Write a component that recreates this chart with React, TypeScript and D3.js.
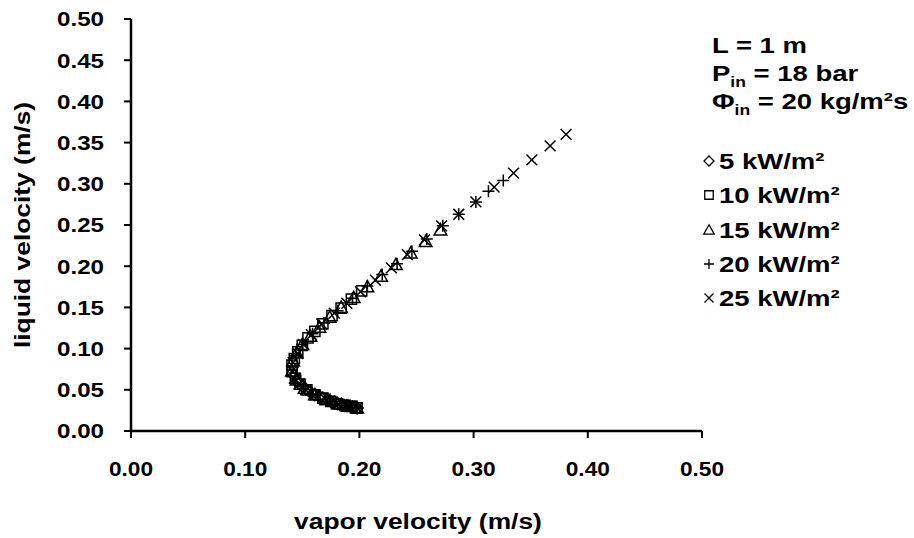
import React from "react";
import * as d3 from "d3";

const W = 914;
const H = 538;

const xTicks = [0, 0.1, 0.2, 0.3, 0.4, 0.5];
const yTicks = [0, 0.05, 0.1, 0.15, 0.2, 0.25, 0.3, 0.35, 0.4, 0.45, 0.5];

const q5: [number, number][] = [
  [0.198, 0.028], [0.196, 0.029], [0.194, 0.029], [0.192, 0.03], [0.189, 0.031],
  [0.187, 0.031], [0.184, 0.032], [0.181, 0.033], [0.178, 0.035], [0.175, 0.036],
  [0.172, 0.038], [0.168, 0.04], [0.165, 0.042], [0.161, 0.044], [0.157, 0.047],
  [0.153, 0.051], [0.15, 0.054], [0.147, 0.058], [0.145, 0.062], [0.143, 0.067],
];
const q10: [number, number][] = [
  [0.198, 0.028], [0.193, 0.03], [0.187, 0.031], [0.181, 0.033], [0.175, 0.036],
  [0.168, 0.04], [0.161, 0.044], [0.154, 0.05], [0.148, 0.057], [0.144, 0.064],
  [0.141, 0.072], [0.141, 0.08], [0.143, 0.088], [0.146, 0.096], [0.15, 0.104],
  [0.155, 0.113], [0.161, 0.121], [0.168, 0.13], [0.176, 0.14], [0.184, 0.149],
  [0.193, 0.16], [0.202, 0.17],
];
const q15: [number, number][] = [
  [0.198, 0.028], [0.19, 0.03], [0.181, 0.033], [0.171, 0.038], [0.161, 0.044],
  [0.152, 0.052], [0.145, 0.062], [0.141, 0.073], [0.142, 0.085], [0.145, 0.095],
  [0.15, 0.105], [0.157, 0.115], [0.165, 0.126], [0.174, 0.138], [0.184, 0.15],
  [0.195, 0.162], [0.207, 0.175], [0.219, 0.188], [0.232, 0.202], [0.245, 0.216],
  [0.258, 0.23], [0.271, 0.244],
];
const q20: [number, number][] = [
  [0.198, 0.028], [0.187, 0.031], [0.175, 0.036], [0.162, 0.044], [0.151, 0.054],
  [0.144, 0.066], [0.141, 0.079], [0.144, 0.092], [0.15, 0.105], [0.159, 0.118],
  [0.169, 0.131], [0.181, 0.146], [0.194, 0.161], [0.207, 0.176], [0.22, 0.19],
  [0.233, 0.203], [0.246, 0.218], [0.259, 0.233], [0.273, 0.249], [0.287, 0.263],
  [0.302, 0.278], [0.313, 0.291], [0.326, 0.304],
];
const q25: [number, number][] = [
  [0.198, 0.028], [0.19, 0.03], [0.18, 0.034], [0.17, 0.039], [0.161, 0.044],
  [0.153, 0.05], [0.147, 0.057], [0.143, 0.064], [0.141, 0.073], [0.142, 0.083],
  [0.146, 0.094], [0.151, 0.105], [0.158, 0.117], [0.167, 0.13], [0.178, 0.143],
  [0.189, 0.155], [0.201, 0.169], [0.214, 0.183], [0.228, 0.198], [0.242, 0.214],
  [0.257, 0.232], [0.272, 0.249], [0.287, 0.263], [0.302, 0.278], [0.318, 0.296],
  [0.335, 0.313], [0.351, 0.329], [0.367, 0.346], [0.381, 0.36],
];

const seriesNames = ["5 kW/m²", "10 kW/m²", "15 kW/m²", "20 kW/m²", "25 kW/m²"];
const seriesData = [q5, q10, q15, q20, q25];
const seriesShapes = ["diamond", "square", "triangle", "plus", "cross"];

function markerPath(shape: string, cx: number, cy: number, s: number): string {
  switch (shape) {
    case "diamond":
      return `M${cx},${cy - s}L${cx + s},${cy}L${cx},${cy + s}L${cx - s},${cy}Z`;
    case "square": {
      const h = s * 0.85;
      return `M${cx - h},${cy - h}H${cx + h}V${cy + h}H${cx - h}Z`;
    }
    case "triangle": {
      const h = s * 1.05;
      return `M${cx},${cy - h}L${cx + h},${cy + h * 0.8}L${cx - h},${cy + h * 0.8}Z`;
    }
    case "plus":
      return `M${cx - s},${cy}H${cx + s}M${cx},${cy - s}V${cy + s}`;
    default: {
      const h = s * 0.9;
      return `M${cx - h},${cy - h}L${cx + h},${cy + h}M${cx + h},${cy - h}L${cx - h},${cy + h}`;
    }
  }
}

function SText(props: {
  x: number;
  y: number;
  sx: number;
  size: number;
  anchor?: string;
  rotate?: number;
  children: React.ReactNode;
}) {
  const { x, y, sx, size, anchor, rotate, children } = props;
  return (
    <g transform={`translate(${x},${y}) rotate(${rotate || 0}) scale(${sx},1)`}>
      <text x={0} y={0} dy="0.35em" fontSize={size} textAnchor={anchor || "start"}>
        {children}
      </text>
    </g>
  );
}

export default function App() {
  const x = d3.scaleLinear().domain([0, 0.5]).range([131, 702]);
  const y = d3.scaleLinear().domain([0, 0.5]).range([431, 19]);
  const font = "'Liberation Sans', Arial, sans-serif";
  const legendX = 712;
  const legendY = [161, 195, 230, 264, 298];

  return (
    <svg
      width={W}
      height={H}
      style={{ position: "absolute", left: 0, top: 0, background: "#fff" }}
      fontFamily={font}
      fontWeight="bold"
    >
      {/* axes */}
      <line x1={x(0)} x2={x(0)} y1={y(0.5)} y2={y(0)} stroke="#000" strokeWidth={2.5} />
      <line x1={x(0)} x2={x(0.5)} y1={y(0)} y2={y(0)} stroke="#000" strokeWidth={2.5} />
      {yTicks.map((t) => (
        <g key={"y" + t}>
          <line x1={x(0) - 7} x2={x(0)} y1={y(t)} y2={y(t)} stroke="#000" strokeWidth={2} />
          <SText x={104} y={y(t)} sx={1.15} size={21} anchor="end">
            {t.toFixed(2)}
          </SText>
        </g>
      ))}
      {xTicks.map((t) => (
        <g key={"x" + t}>
          <line x1={x(t)} x2={x(t)} y1={y(0)} y2={y(0) + 7} stroke="#000" strokeWidth={2} />
          <SText x={x(t)} y={469} sx={1.08} size={21} anchor="middle">
            {t.toFixed(2)}
          </SText>
        </g>
      ))}
      <SText x={22} y={225} sx={1.2} size={22} anchor="middle" rotate={-90}>
        liquid velocity (m/s)
      </SText>
      <SText x={418} y={521} sx={1.2} size={22} anchor="middle">
        vapor velocity (m/s)
      </SText>

      {/* data */}
      {seriesData.map((data, i) => (
        <g key={"s" + i}>
          {data.map((d, j) => (
            <path
              key={j}
              d={markerPath(seriesShapes[i], x(d[0]), y(d[1]), 6)}
              fill="none"
              stroke="#000"
              strokeWidth={1.5}
            />
          ))}
        </g>
      ))}

      {/* annotations */}
      <SText x={legendX} y={45} sx={1.25} size={22}>L = 1 m</SText>
      <SText x={legendX} y={73} sx={1.25} size={22}>
        P<tspan fontSize={14} dy="6">in</tspan>
        <tspan dy="-6"> = 18 bar</tspan>
      </SText>
      <SText x={legendX} y={101} sx={1.25} size={22}>
        Φ<tspan fontSize={14} dy="6">in</tspan>
        <tspan dy="-6"> = 20 kg/m²s</tspan>
      </SText>

      {/* legend */}
      {seriesNames.map((n, i) => (
        <g key={"l" + i}>
          <path
            d={markerPath(seriesShapes[i], legendX - 3, legendY[i], 5)}
            fill="none"
            stroke="#000"
            strokeWidth={1.3}
          />
          <SText x={legendX + 7} y={legendY[i]} sx={1.25} size={22}>
            {n}
          </SText>
        </g>
      ))}
    </svg>
  );
}
